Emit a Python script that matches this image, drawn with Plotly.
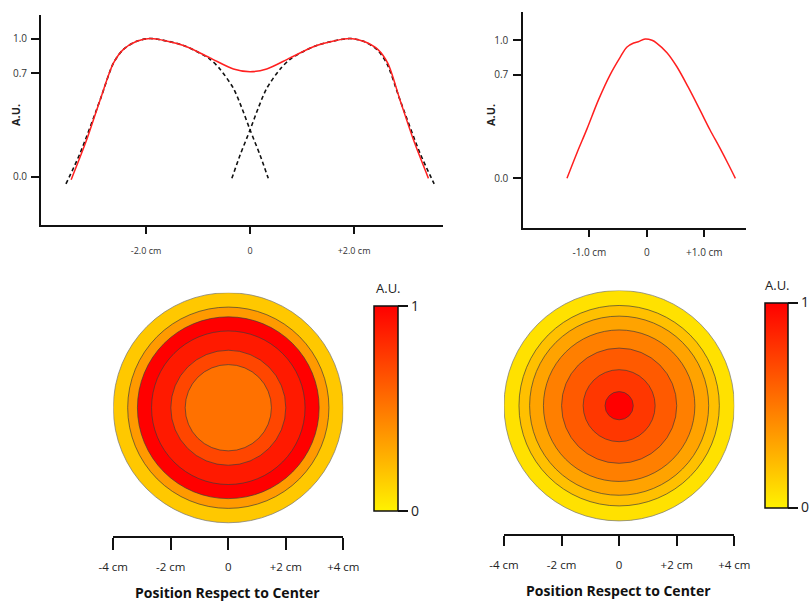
import plotly.graph_objects as go
from plotly.colors import sample_colorscale

# ---------------- data ----------------
# top-left profile (two sources)
sum_x = [-3.44, -3.14, -2.88, -2.63, -2.44, -2.18, -1.92, -1.28, -0.77, -0.32, 0.0,
         0.32, 0.77, 1.28, 1.92, 2.18, 2.46, 2.65, 2.88, 3.14, 3.43]
sum_y = [-0.02, 0.27, 0.56, 0.82, 0.92, 0.98, 1.0, 0.95, 0.86, 0.78, 0.76,
         0.78, 0.86, 0.95, 1.0, 0.98, 0.92, 0.82, 0.56, 0.27, -0.01]
srcL_x = [-3.54, -3.27, -2.88, -2.63, -2.44, -2.18, -1.92, -1.28, -0.77, -0.58, -0.32, -0.16, 0.0, 0.19, 0.35]
srcL_y = [-0.05, 0.17, 0.56, 0.82, 0.92, 0.98, 1.0, 0.95, 0.85, 0.78, 0.64, 0.50, 0.34, 0.16, -0.01]
srcR_x = [-0.35, -0.19, 0.0, 0.16, 0.32, 0.58, 0.77, 1.28, 1.92, 2.18, 2.44, 2.63, 2.88, 3.27, 3.54]
srcR_y = [-0.01, 0.16, 0.34, 0.50, 0.64, 0.78, 0.85, 0.95, 1.0, 0.98, 0.92, 0.82, 0.56, 0.17, -0.05]

# top-right profile (single source)
one_x = [-1.39, -1.22, -1.04, -0.84, -0.64, -0.46, -0.35, -0.23, -0.15, -0.03, 0.09,
         0.17, 0.35, 0.52, 0.72, 0.93, 1.10, 1.27, 1.42, 1.54]
one_y = [0.0, 0.18, 0.36, 0.57, 0.75, 0.88, 0.95, 0.98, 0.99, 1.01, 1.0,
         0.98, 0.91, 0.81, 0.66, 0.49, 0.35, 0.22, 0.10, 0.0]

# tick labels
top_ytick_vals = [0.0, 0.75, 1.0]
top_ytick_text = ["0.0", "0.7", "1.0"]
tl_xtick_vals = [-2, 0, 2]
tl_xtick_text = ["-2.0 cm", "0", "+2.0 cm"]
tr_xtick_vals = [-1, 0, 1]
tr_xtick_text = ["-1.0 cm", "0", "+1.0 cm"]
bot_xtick_vals = [-4, -2, 0, 2, 4]
bot_xtick_text = ["-4 cm", "-2 cm", "0", "+2 cm", "+4 cm"]

# rings of the 2-D maps (radius in cm, intensity A.U.)
ringsL_r = [4.0, 3.5, 3.16, 2.67, 2.0, 1.5]
ringsL_v = [0.17, 0.36, 1.0, 0.89, 0.71, 0.53]
ringsR_r = [4.0, 3.48, 3.11, 2.63, 2.0, 1.25, 0.49]
ringsR_v = [0.07, 0.2, 0.32, 0.47, 0.625, 0.77, 1.0]

colorscale = [[0.0, "#FFF200"], [0.25, "#FFB400"], [0.5, "#FF7800"],
              [0.75, "#FF3C00"], [1.0, "#FF0000"]]

W, H = 812, 603
def px(x):
    return x / W
def py(y):
    return 1 - y / H

FONT = "Open Sans"
fig = go.Figure()

# top-left curves
for sx, sy in ((srcL_x, srcL_y), (srcR_x, srcR_y)):
    fig.add_trace(go.Scatter(x=sx, y=sy, mode="lines", xaxis="x", yaxis="y",
                             line=dict(color="#111", width=1.6, dash="4px,3px", shape="spline", smoothing=0.8),
                             hoverinfo="skip", showlegend=False))
fig.add_trace(go.Scatter(x=sum_x, y=sum_y, mode="lines", xaxis="x", yaxis="y",
                         line=dict(color="#FF2020", width=1.5, shape="spline", smoothing=0.8),
                         hoverinfo="skip", showlegend=False))
# top-right curve
fig.add_trace(go.Scatter(x=one_x, y=one_y, mode="lines", xaxis="x2", yaxis="y2",
                         line=dict(color="#FF2020", width=1.5, shape="spline", smoothing=1.0),
                         hoverinfo="skip", showlegend=False))

# colorbar carriers
def cbar(xpix, ycenter, thick):
    return dict(x=px(xpix), xanchor="left", xpad=0, ypad=0,
                y=py(ycenter), yanchor="middle", len=205, lenmode="pixels",
                thickness=thick, thicknessmode="pixels",
                outlinecolor="#111", outlinewidth=1.5, borderwidth=0,
                ticks="outside", ticklen=10, tickwidth=1.5, tickcolor="#111",
                tickvals=[0, 1], ticktext=["0", "1"],
                tickfont=dict(family=FONT, size=14, color="#222"))

fig.add_trace(go.Scatter(x=[0], y=[0], mode="markers", xaxis="x3", yaxis="y3",
                         marker=dict(size=0.1, opacity=0, color=[0], colorscale=colorscale,
                                     cmin=0, cmax=1, showscale=True, colorbar=cbar(373.5, 408.2, 24)),
                         hoverinfo="skip", showlegend=False))
fig.add_trace(go.Scatter(x=[0], y=[0], mode="markers", xaxis="x4", yaxis="y4",
                         marker=dict(size=0.1, opacity=0, color=[0], colorscale=colorscale,
                                     cmin=0, cmax=1, showscale=True, colorbar=cbar(765, 405, 23)),
                         hoverinfo="skip", showlegend=False))

# rings as shapes
shapes = []
for xr, yr, radii, vals in (("x3", "y3", ringsL_r, ringsL_v), ("x4", "y4", ringsR_r, ringsR_v)):
    cols = sample_colorscale(colorscale, vals)
    for i, (r, c) in enumerate(zip(radii, cols)):
        shapes.append(dict(type="circle", xref=xr, yref=yr, x0=-r, x1=r, y0=-r, y1=r,
                           fillcolor=c,
                           line=dict(color="rgba(60,60,60,0.75)" if i else "rgba(120,120,120,0.8)",
                                     width=0.9),
                           layer="below"))

axis_common = dict(showline=True, linecolor="#111", linewidth=2, ticks="outside",
                   tickcolor="#111", tickwidth=2, showgrid=False, zeroline=False,
                   fixedrange=True, automargin=False)

def tf(size, color="#333"):
    return dict(family=FONT, size=size, color=color)

layout = dict(
    width=W, height=H, margin=dict(l=0, r=0, t=0, b=0, autoexpand=False),
    paper_bgcolor="white", plot_bgcolor="rgba(0,0,0,0)",
    showlegend=False,
    xaxis=dict(domain=[px(41), px(443)], range=[-4.02, 3.71], anchor="y",
               tickvals=tl_xtick_vals, ticktext=tl_xtick_text, ticklen=7,
               ticklabelstandoff=9, tickfont=tf(9), **axis_common),
    yaxis=dict(domain=[py(225), py(15)], range=[-0.347, 1.17], anchor="x",
               tickvals=top_ytick_vals, ticktext=top_ytick_text, ticklen=8,
               ticklabelstandoff=2, tickfont=tf(10), **axis_common),
    xaxis2=dict(domain=[px(523.3), px(745.7)], range=[-2.15, 1.72], anchor="y2",
                tickvals=tr_xtick_vals, ticktext=tr_xtick_text, ticklen=7,
                ticklabelstandoff=7, tickfont=tf(10), **axis_common),
    yaxis2=dict(domain=[py(228), py(12)], range=[-0.36, 1.205], anchor="x2",
                tickvals=top_ytick_vals, ticktext=top_ytick_text, ticklen=8,
                ticklabelstandoff=3, tickfont=tf(10), **axis_common),
    xaxis3=dict(domain=[px(113.3), px(343.3)], range=[-4, 4], anchor="y3",
                tickvals=bot_xtick_vals, ticktext=bot_xtick_text, ticklen=12,
                ticklabelstandoff=7, tickfont=tf(11.5, "#222"), **axis_common),
    yaxis3=dict(domain=[py(536), py(292.7)], range=[-4.46, 4.0], anchor="x3", visible=False,
                fixedrange=True),
    xaxis4=dict(domain=[px(504), px(734.3)], range=[-4, 4], anchor="y4",
                tickvals=bot_xtick_vals, ticktext=bot_xtick_text, ticklen=10,
                ticklabelstandoff=9, tickfont=tf(11.5, "#222"), **axis_common),
    yaxis4=dict(domain=[py(534), py(290.5)], range=[-4.455, 4.0], anchor="x4", visible=False,
                fixedrange=True),
    shapes=shapes,
)

ann = []
def add_ann(xp, yp, text, font, angle=0):
    ann.append(dict(x=px(xp), y=py(yp), xref="paper", yref="paper", text=text,
                    textangle=angle, showarrow=False, xanchor="center", yanchor="middle",
                    font=font))
for xp, yp in ((15, 115), (490, 115)):
    add_ann(xp, yp, "<b>A.U.</b>", dict(family=FONT, size=11, color="#222"), -90)
for xp, yp in ((388, 288), (777, 285)):
    add_ann(xp, yp, "A.U.", dict(family=FONT, size=13, color="#222"))
for xp, yp in ((227, 592), (618, 590)):
    add_ann(xp, yp, "<b>Position Respect to Center</b>", dict(family=FONT, size=14, color="#111"))
layout["annotations"] = ann

fig.update_layout(**layout)
fig.write_html("out.html")
